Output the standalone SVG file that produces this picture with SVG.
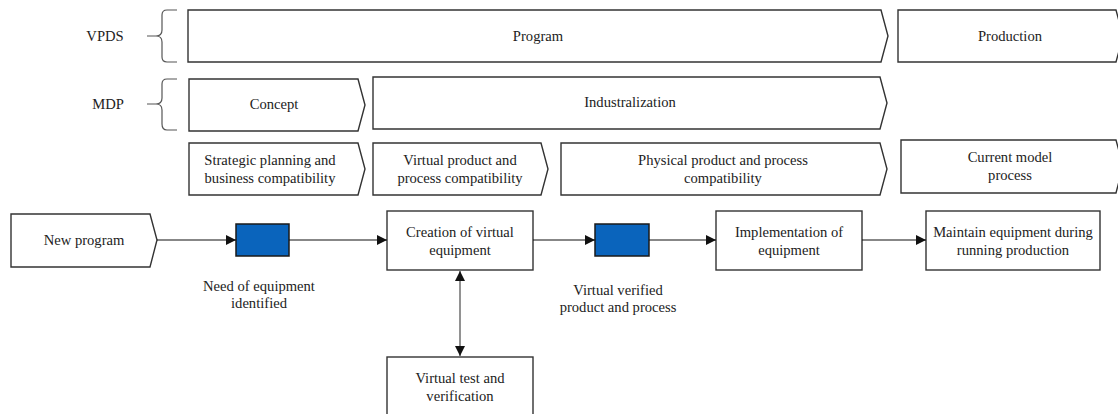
<svg xmlns="http://www.w3.org/2000/svg" width="1118" height="414" viewBox="0 0 1118 414">
<style>
text{font-family:"Liberation Serif","Times New Roman",serif;font-size:14.6px;fill:#222;text-anchor:middle}
.box{fill:#fff;stroke:#333;stroke-width:1.4}
.brace{fill:none;stroke:#555;stroke-width:1.2}
.ev{fill:#0A64BC;stroke:#1a1a1a;stroke-width:1.5}
.conn{fill:none;stroke:#111;stroke-width:1.1}
.conn2{fill:none;stroke:#777;stroke-width:1.6}
</style>
<defs>
<marker id="ah" viewBox="0 0 10 10" refX="10" refY="5" markerWidth="10" markerHeight="10" markerUnits="userSpaceOnUse" orient="auto-start-reverse">
<path d="M0,0 L10,5 L0,10 Z" fill="#111"/>
</marker>
</defs>
<rect width="1118" height="414" fill="#fff"/>

<g id="vpds">
<text x="105" y="41">VPDS</text>
<path class="brace" d="M177,10 H167 Q162,10 162,15 V30 Q162,36 156,36 H147 M156,36 Q162,36 162,42 V57 Q162,62 167,62 H177"/>
</g>
<g id="mdp">
<text x="108" y="109">MDP</text>
<path class="brace" d="M177,79 H167 Q162,79 162,84 V98 Q162,104 156,104 H147 M156,104 Q162,104 162,110 V124 Q162,130 167,130 H177"/>
</g>

<g id="program">
<path class="box" d="M188,10 H881 L888,36 L881,62 H188 Z"/>
<text x="538" y="41">Program</text>
</g>
<g id="production">
<path class="box" d="M898,10 H1116 L1123,36 L1116,62 H898 Z"/>
<text x="1010" y="41">Production</text>
</g>

<g id="concept">
<path class="box" d="M189,79 H358 L365,105 L358,131 H189 Z"/>
<text x="274" y="109">Concept</text>
</g>
<g id="industrialization">
<path class="box" d="M373,77 H880 L887,103 L880,129 H373 Z"/>
<text x="630" y="107">Industralization</text>
</g>

<g id="strategic">
<path class="box" d="M189,143 H358 L365,169 L358,195 H189 Z"/>
<text x="270" y="165">Strategic planning and</text>
<text x="270" y="183">business compatibility</text>
</g>
<g id="virtual-compat">
<path class="box" d="M373,143 H541 L548,169 L541,195 H373 Z"/>
<text x="460" y="165">Virtual product and</text>
<text x="460" y="183">process compatibility</text>
</g>
<g id="physical-compat">
<path class="box" d="M561,143 H880 L887,169 L880,195 H561 Z"/>
<text x="723" y="165">Physical product and process</text>
<text x="723" y="183">compatibility</text>
</g>
<g id="current-model">
<path class="box" d="M901,140 H1116 L1123,166 L1116,193 H901 Z"/>
<text x="1010" y="162">Current model</text>
<text x="1010" y="180">process</text>
</g>

<g id="new-program">
<path class="box" d="M11,214 H150 L157,240 L150,267 H11 Z"/>
<text x="84" y="245">New program</text>
</g>
<g id="need-identified">
<rect class="ev" x="236" y="224" width="53" height="32"/>
<text x="259" y="291">Need of equipment</text>
<text x="259" y="308">identified</text>
</g>
<g id="creation">
<rect class="box" x="387" y="211" width="146" height="59"/>
<text x="460" y="237">Creation of virtual</text>
<text x="460" y="255">equipment</text>
</g>
<g id="verified">
<rect class="ev" x="595" y="224" width="54" height="32"/>
<text x="618" y="295">Virtual verified</text>
<text x="618" y="312">product and process</text>
</g>
<g id="implementation">
<rect class="box" x="716" y="211" width="146" height="59"/>
<text x="789" y="237">Implementation of</text>
<text x="789" y="255">equipment</text>
</g>
<g id="maintain">
<rect class="box" x="926" y="211" width="174" height="59"/>
<text x="1013" y="237">Maintain equipment during</text>
<text x="1013" y="255">running production</text>
</g>
<g id="virtual-test">
<rect class="box" x="387" y="357" width="146" height="70"/>
<text x="460" y="383">Virtual test and</text>
<text x="460" y="401">verification</text>
</g>

<g id="connectors">
<path class="conn" d="M157,240 H236" marker-end="url(#ah)"/>
<path class="conn" d="M289,240 H387" marker-end="url(#ah)"/>
<path class="conn" d="M533,240 H595" marker-end="url(#ah)"/>
<path class="conn" d="M649,240 H716" marker-end="url(#ah)"/>
<path class="conn" d="M862,240 H926" marker-end="url(#ah)"/>
<path class="conn2" d="M460,271 V356" marker-start="url(#ah)" marker-end="url(#ah)"/>
</g>
</svg>
